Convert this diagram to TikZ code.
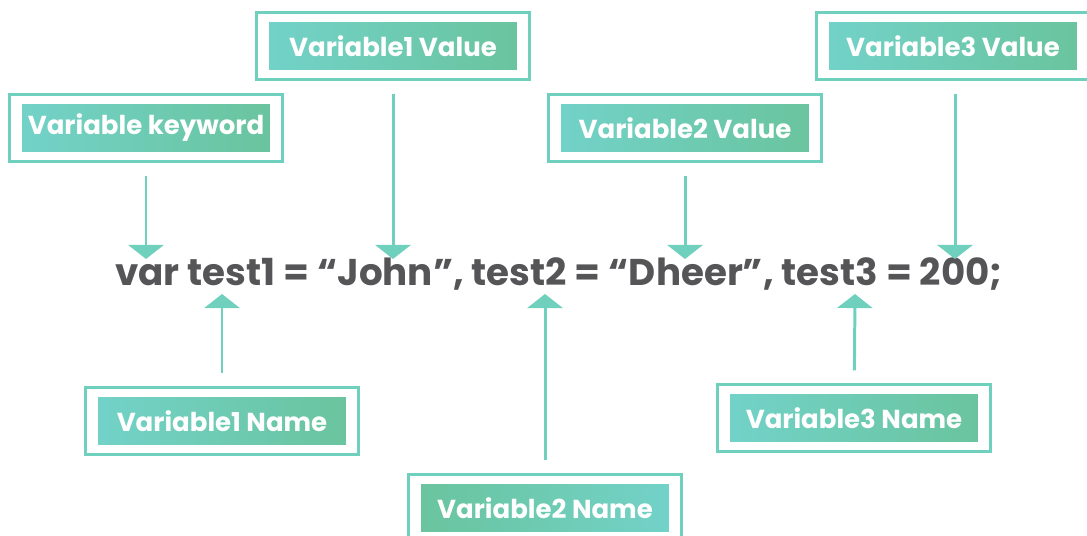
\documentclass[tikz,border=0pt]{standalone}
\usepackage{fontspec}
\setmainfont{Poppins}
\usepackage{xcolor}
\definecolor{vframe}{RGB}{112,208,190}
\definecolor{vcyan}{RGB}{114,210,200}
\definecolor{vgreen}{RGB}{106,196,158}
\definecolor{vcode}{RGB}{85,85,88}
\usetikzlibrary{arrows.meta, positioning, fit}

\tikzset{
  label box/.style={minimum width=4.96cm, minimum height=0.94cm, inner sep=0pt,
    left color=vcyan, right color=vgreen, draw=none,
    font=\fontsize{14.8}{17}\selectfont\bfseries, text=white},
  label box flip/.style={label box, left color=vgreen, right color=vcyan},
  frame/.style={draw=vframe, line width=1.6pt, inner xsep=0.24cm, inner ysep=0.19cm},
  pointer/.style={draw=vframe, line width=1.7pt, shorten <=0.26cm,
    -{Triangle[width=20pt,length=8pt]}}
}

\begin{document}
\begin{tikzpicture}[x=0.02cm, y=-0.02cm]
\useasboundingbox (0,0) rectangle (1087,535);

% --- code line ---
\node[font=\fontsize{21.2}{25}\selectfont\bfseries, text=vcode] (code) at (559,274)
  {var test1 = “John”, test2 = “Dheer”, test3 = 200;};

% --- labels above ---
\node[label box] (kw) at (146,128) {Variable keyword};
\node[frame, fit=(kw)] (kwf) {};
\node[label box] (val1) at (393,46) {Variable1 Value};
\node[frame, fit=(val1)] (val1f) {};
\node[label box] (val2) at (685,128) {Variable2 Value};
\node[frame, fit=(val2)] (val2f) {};
\node[label box] (val3) at (953,46) {Variable3 Value};
\node[frame, fit=(val3)] (val3f) {};

% --- labels below ---
\node[label box] (nm1) at (222,421) {Variable1 Name};
\node[frame, fit=(nm1)] (nm1f) {};
\node[label box flip] (nm2) at (545,508) {Variable2 Name};
\node[frame, fit=(nm2)] (nm2f) {};
\node[label box] (nm3) at (854,418) {Variable3 Name};
\node[frame, fit=(nm3)] (nm3f) {};

% arrow tips at the code line
\coordinate (kwtip) at (146,259);
\coordinate (val1tip) at (393,259);
\coordinate (val2tip) at (685,259);
\coordinate (val3tip) at (955,259);
\coordinate (nm1tip) at (222,294);
\coordinate (nm2tip) at (545,294);
\coordinate (nm3tip) at (855,294);

% --- pointers ---
\draw[pointer] (kwf) -- (kwtip);
\draw[pointer] (val1f) -- (val1tip);
\draw[pointer] (val2f) -- (val2tip);
\draw[pointer] (val3f.south -| val3tip) -- (val3tip);
\draw[pointer] (nm1f) -- (nm1tip);
\draw[pointer] (nm2f) -- (nm2tip);
\draw[pointer] (nm3f) -- (nm3tip);

\end{tikzpicture}
\end{document}
